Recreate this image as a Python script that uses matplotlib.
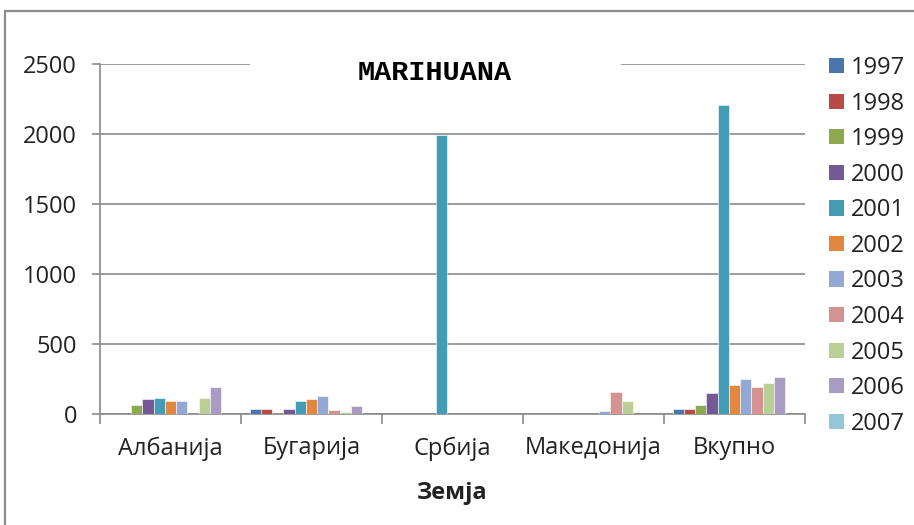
import matplotlib
matplotlib.use("Agg")
import matplotlib.pyplot as plt
from matplotlib.patches import Rectangle, Patch
import numpy as np

# Заплени количини марихуана по земја и година
countries = ["Албанија", "Бугарија", "Србија", "Македонија", "Вкупно"]
years = ["1997", "1998", "1999", "2000", "2001", "2002",
         "2003", "2004", "2005", "2006", "2007"]

v1997 = [0, 38, 0, 0, 38]
v1998 = [0, 38, 0, 0, 38]
v1999 = [65, 0, 0, 0, 65]
v2000 = [104, 38, 0, 0, 152]
v2001 = [114, 95, 1990, 0, 2210]
v2002 = [95, 104, 0, 0, 208]
v2003 = [95, 131, 0, 20, 251]
v2004 = [0, 29, 0, 160, 196]
v2005 = [114, 12, 0, 95, 225]
v2006 = [196, 56, 0, 0, 261]
v2007 = [0, 0, 0, 0, 0]
series = [v1997, v1998, v1999, v2000, v2001, v2002,
          v2003, v2004, v2005, v2006, v2007]

colors = ["#4A76AE", "#B74A47", "#8CA950", "#745995", "#419CB4", "#E3863E",
          "#93A9D4", "#D49291", "#BACF96", "#A99BC2", "#93C6D7"]

FONT = ["Open Sans", "DejaVu Sans"]
plt.rcParams["font.family"] = FONT
grid_col = "#8a8a8a"
txt_col = "#222222"
fs = 17

fig = plt.figure(figsize=(9.14, 5.25), dpi=100)
ax = fig.add_axes([100 / 914, 111 / 525, 705 / 914, 350 / 525])

x = np.arange(len(countries))
bw = 0.0795
n = len(series)
for i, (vals, col) in enumerate(zip(series, colors)):
    ax.bar(x + (i - (n - 1) / 2) * bw, vals, width=bw, color=col,
           edgecolor="white", linewidth=0.4, zorder=3)

ax.set_xlim(-0.5, len(countries) - 0.5)
ax.set_ylim(0, 2500)
ax.set_yticks(np.arange(0, 2501, 500))
ax.yaxis.grid(True, color=grid_col, linewidth=1.2, zorder=0)
ax.set_axisbelow(True)

# category boundaries as major ticks, names on minor ticks
ax.set_xticks(np.arange(-0.5, len(countries), 1.0))
ax.set_xticklabels([])
ax.set_xticks(x, minor=True)
ax.set_xticklabels(countries, minor=True)
ax.tick_params(axis="x", which="major", length=7, width=1.2, color=grid_col, direction="out")
ax.tick_params(axis="x", which="minor", length=0, pad=16, labelsize=fs, labelcolor=txt_col)
ax.tick_params(axis="y", length=5.5, width=1.2, color=grid_col, pad=11,
               labelsize=fs, labelcolor=txt_col)

for side in ["top", "right"]:
    ax.spines[side].set_visible(False)
for side in ["left", "bottom"]:
    ax.spines[side].set_color(grid_col)
    ax.spines[side].set_linewidth(1.2)

ax.set_xlabel("Земја", fontsize=fs, fontweight="bold", labelpad=15, color=txt_col)

# title area blanks out part of the top gridline
ax.add_patch(Rectangle(((250 - 100) / 705, 0.96), (621 - 250) / 705, 0.08,
                       transform=ax.transAxes, facecolor="white",
                       edgecolor="none", zorder=1, clip_on=False))
fig.text(435 / 914, 1 - 73 / 525, "MARIHUANA", family="Liberation Mono",
         fontweight="bold", fontsize=20.5, ha="center", va="center")

handles = [Patch(facecolor=c, edgecolor="none") for c in colors]
leg = fig.legend(handles, years, loc="upper left",
                 bbox_to_anchor=(829 / 914, 1 - 56 / 525),
                 frameon=False, fontsize=fs, handlelength=0.62,
                 handleheight=0.62, handletextpad=0.3, labelspacing=0.49,
                 borderpad=0, borderaxespad=0)
for t in leg.get_texts():
    t.set_color(txt_col)

# chart border
fig.patches.append(Rectangle((5 / 914, -0.1), 1.2, 1 - 11 / 525 + 0.1,
                             transform=fig.transFigure, fill=False,
                             edgecolor="#8c8c8c", linewidth=1.6))

fig.savefig("out.png", dpi=100)
